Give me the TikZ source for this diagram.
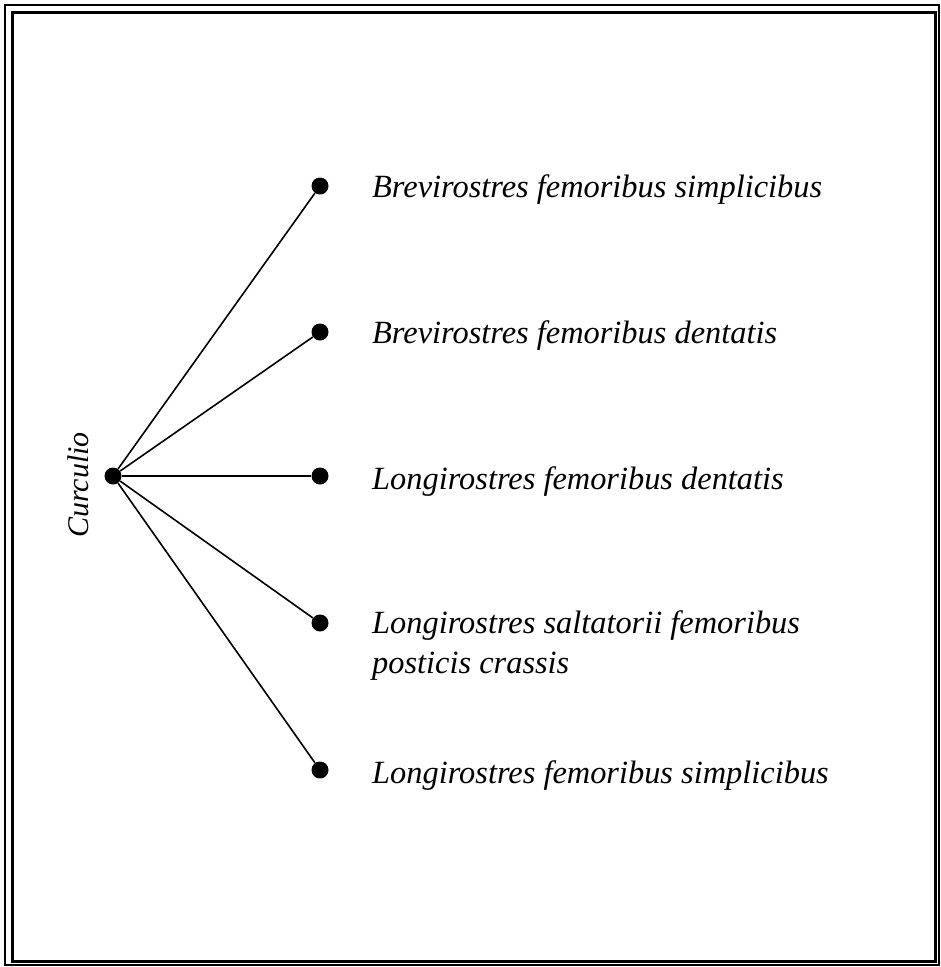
\documentclass[tikz,border=0pt]{standalone}
\usepackage{fontspec}
\setmainfont{Liberation Serif}
\begin{document}
\begin{tikzpicture}[x=1pt,y=-1pt,
  dot/.style={circle,fill=black,inner sep=0pt,minimum size=17pt},
  lbl/.style={anchor=west,font=\fontsize{32.4}{40}\selectfont\itshape,align=left,inner sep=0pt},
  edge/.style={line width=1.6pt}]
\useasboundingbox (0,0) rectangle (941,967);
\draw[line width=1.2pt] (5,5) rectangle (939,965);
\draw[line width=3pt] (12,12) rectangle (935,961);
\node[dot] (c) at (113,476) {};
\node[dot] (a1) at (320,186) {};
\node[dot] (a2) at (320,332) {};
\node[dot] (a3) at (320,476) {};
\node[dot] (a4) at (320,623) {};
\node[dot] (a5) at (320,770) {};
\foreach \n in {a1,a2,a3,a4,a5} \draw[edge] (c) -- (\n);
\node[lbl] (t1) at (372,190) {Brevirostres femoribus simplicibus};
\node[lbl] (t2) at (372,336) {Brevirostres femoribus dentatis};
\node[lbl] (t3) at (372,482) {Longirostres femoribus dentatis};
\node[lbl,anchor=north west] (t4) at (372,610) {Longirostres saltatorii femoribus\\posticis crassis};
\node[lbl] (t5) at (372,776) {Longirostres femoribus simplicibus};
\node[font=\fontsize{30}{32}\selectfont\itshape,rotate=90,inner sep=0pt] (cl) at (78,485) {Curculio};
\end{tikzpicture}
\end{document}
